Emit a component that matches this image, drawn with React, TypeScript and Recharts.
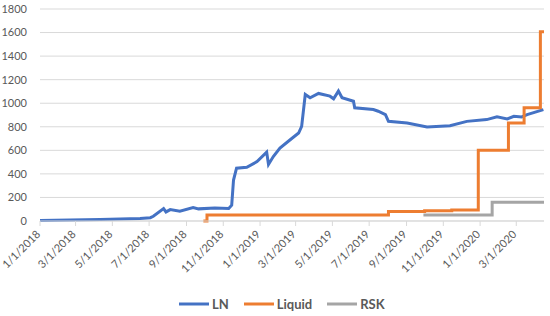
import React from 'react';
import { LineChart, Line, XAxis, YAxis, CartesianGrid, Legend } from 'recharts';

const lnDates = [
  '2018-01-01', '2018-02-20', '2018-04-11', '2018-05-14', '2018-06-16', '2018-07-03', '2018-07-08',
  '2018-07-25', '2018-07-29', '2018-08-05', '2018-08-21', '2018-09-12', '2018-09-21', '2018-10-18',
  '2018-11-10', '2018-11-15', '2018-11-18', '2018-11-23', '2018-12-10', '2018-12-27', '2019-01-12',
  '2019-01-15', '2019-01-23', '2019-02-03', '2019-02-20', '2019-03-06', '2019-03-11', '2019-03-17',
  '2019-03-25', '2019-04-08', '2019-04-27', '2019-05-03', '2019-05-11', '2019-05-17', '2019-06-05',
  '2019-06-07', '2019-07-08', '2019-07-16', '2019-07-28', '2019-08-02', '2019-09-02', '2019-10-05',
  '2019-11-12', '2019-12-10', '2020-01-12', '2020-01-29', '2020-02-15', '2020-02-26', '2020-03-10',
  '2020-03-19', '2020-04-15',
];
const lnValues = [
  5, 8, 12, 16, 22, 28, 40,
  106, 77, 97, 83, 114, 103, 110,
  106, 134, 348, 448, 456, 504, 585,
  480, 547, 619, 690, 747, 803, 1074,
  1046, 1083, 1060, 1038, 1103, 1046, 1017,
  961, 946, 932, 903, 846, 832, 798,
  809, 846, 861, 884, 867, 889, 884,
  903, 946,
];

const liquidDates = [
  '2018-09-29', '2018-10-05', '2019-08-02', '2019-10-01', '2019-11-15', '2019-12-29',
  '2020-02-17', '2020-03-14', '2020-04-10', '2020-04-16',
];
const liquidValues = [0, 52, 80, 88, 93, 600, 832, 961, 1607, 1607];

const rskDates = ['2019-09-29', '2020-01-21', '2020-04-16'];
const rskValues = [50, 160, 160];

const tickDates = [
  '2018-01-01', '2018-03-01', '2018-05-01', '2018-07-01', '2018-09-01', '2018-11-01', '2019-01-01',
  '2019-03-01', '2019-05-01', '2019-07-01', '2019-09-01', '2019-11-01', '2020-01-01', '2020-03-01',
];
const yTicks = [0, 200, 400, 600, 800, 1000, 1200, 1400, 1600, 1800];

const seriesNames = ['LN', 'Liquid', 'RSK'];
const seriesColors = ['#4472C4', '#ED7D31', '#A5A5A5'];

const toT = (s: string) => {
  const [y, m, d] = s.split('-').map(Number);
  return Date.UTC(y, m - 1, d);
};
const fmt = (t: number) => {
  const d = new Date(t);
  return `${d.getUTCMonth() + 1}/${d.getUTCDate()}/${d.getUTCFullYear()}`;
};

const lnData = lnDates.map((d, i) => ({ t: toT(d), v: lnValues[i] }));
const liquidData = liquidDates.map((d, i) => ({ t: toT(d), v: liquidValues[i] }));
const rskData = rskDates.map((d, i) => ({ t: toT(d), v: rskValues[i] }));
const ticks = tickDates.map(toT);

const START = toT('2018-01-01');
const END = toT('2020-04-16');

const FONT = 'Lato, "Open Sans", sans-serif';

const XTick = (props: any) => {
  const { x, y, payload } = props;
  return (
    <g transform={`translate(${x + 1},${y + 7}) rotate(-45)`}>
      <text x={0} y={0} textAnchor="end" fill="#595959" fontSize={11} fontFamily={FONT}>
        {fmt(payload.value)}
      </text>
    </g>
  );
};

const LegendContent = () => (
  <div
    style={{
      height: 24,
      display: 'flex',
      alignItems: 'center',
      paddingLeft: 179,
      fontFamily: FONT,
      fontSize: 13,
      fontWeight: 'bold',
      color: '#595959',
    }}
  >
    {seriesNames.map((n, i) => (
      <div key={n} style={{ display: 'flex', alignItems: 'center', marginRight: 15 }}>
        <svg width={30} height={6} style={{ marginRight: 3 }}>
          <line x1={0} y1={3} x2={30} y2={3} stroke={seriesColors[i]} strokeWidth={3} />
        </svg>
        <span>{n}</span>
      </div>
    ))}
  </div>
);

export default function App() {
  return (
    <div style={{ position: 'absolute', left: 0, top: 0, width: 550, height: 316, background: '#fff' }}>
      <LineChart width={550} height={316} margin={{ top: 9, right: 6, left: 0, bottom: 0 }}>
        <CartesianGrid horizontal vertical={false} stroke="#D9D9D9" />
        <XAxis
          type="number"
          dataKey="t"
          domain={[START, END]}
          ticks={ticks}
          interval={0}
          height={71}
          tick={<XTick />}
          tickSize={5}
          tickMargin={2}
          stroke="#D9D9D9"
          tickLine={{ stroke: '#D9D9D9' }}
          allowDataOverflow
        />
        <YAxis
          type="number"
          domain={[0, 1800]}
          ticks={yTicks}
          interval={0}
          width={40}
          axisLine={false}
          tickLine={false}
          tickMargin={7}
          tick={{ fill: '#595959', fontSize: 11, fontFamily: FONT }}
        />
        <Legend verticalAlign="bottom" height={24} content={<LegendContent />} wrapperStyle={{ height: 24 }} />
        <Line
          data={lnData}
          dataKey="v"
          name={seriesNames[0]}
          type="linear"
          stroke={seriesColors[0]}
          strokeWidth={3}
          dot={false}
          isAnimationActive={false}
        />
        <Line
          data={liquidData}
          dataKey="v"
          name={seriesNames[1]}
          type="stepAfter"
          stroke={seriesColors[1]}
          strokeWidth={3}
          dot={false}
          isAnimationActive={false}
        />
        <Line
          data={rskData}
          dataKey="v"
          name={seriesNames[2]}
          type="stepAfter"
          stroke={seriesColors[2]}
          strokeWidth={3}
          dot={false}
          isAnimationActive={false}
        />
      </LineChart>
    </div>
  );
}
